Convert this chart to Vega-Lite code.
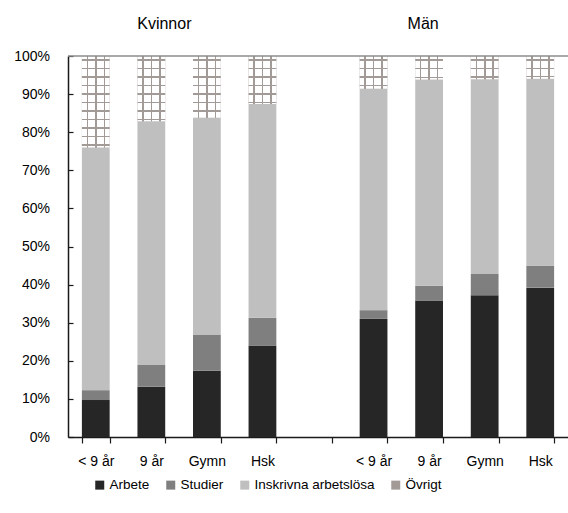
{
  "$schema": "https://vega.github.io/schema/vega-lite/v6.json",
  "width": 500,
  "height": 381,
  "autosize": {"type": "none"},
  "padding": {"left": 68, "top": 56, "right": 0, "bottom": 76},
  "background": "white",
  "config": {"view": {"stroke": null}, "font": "Liberation Sans"},
  "datasets": {
    "main": [
      {"cat": "K1", "kon": "Kvinnor", "utb": "< 9 år", "series": "Arbete", "k": 1, "value": 0.097},
      {"cat": "K1", "kon": "Kvinnor", "utb": "< 9 år", "series": "Studier", "k": 2, "value": 0.026},
      {"cat": "K1", "kon": "Kvinnor", "utb": "< 9 år", "series": "Inskrivna arbetslösa", "k": 3, "value": 0.637},
      {"cat": "K1", "kon": "Kvinnor", "utb": "< 9 år", "series": "Övrigt", "k": 4, "value": 0.240},
      {"cat": "K2", "kon": "Kvinnor", "utb": "9 år", "series": "Arbete", "k": 1, "value": 0.132},
      {"cat": "K2", "kon": "Kvinnor", "utb": "9 år", "series": "Studier", "k": 2, "value": 0.057},
      {"cat": "K2", "kon": "Kvinnor", "utb": "9 år", "series": "Inskrivna arbetslösa", "k": 3, "value": 0.640},
      {"cat": "K2", "kon": "Kvinnor", "utb": "9 år", "series": "Övrigt", "k": 4, "value": 0.171},
      {"cat": "K3", "kon": "Kvinnor", "utb": "Gymn", "series": "Arbete", "k": 1, "value": 0.174},
      {"cat": "K3", "kon": "Kvinnor", "utb": "Gymn", "series": "Studier", "k": 2, "value": 0.095},
      {"cat": "K3", "kon": "Kvinnor", "utb": "Gymn", "series": "Inskrivna arbetslösa", "k": 3, "value": 0.569},
      {"cat": "K3", "kon": "Kvinnor", "utb": "Gymn", "series": "Övrigt", "k": 4, "value": 0.162},
      {"cat": "K4", "kon": "Kvinnor", "utb": "Hsk", "series": "Arbete", "k": 1, "value": 0.240},
      {"cat": "K4", "kon": "Kvinnor", "utb": "Hsk", "series": "Studier", "k": 2, "value": 0.073},
      {"cat": "K4", "kon": "Kvinnor", "utb": "Hsk", "series": "Inskrivna arbetslösa", "k": 3, "value": 0.561},
      {"cat": "K4", "kon": "Kvinnor", "utb": "Hsk", "series": "Övrigt", "k": 4, "value": 0.126},
      {"cat": "M1", "kon": "Män", "utb": "< 9 år", "series": "Arbete", "k": 1, "value": 0.310},
      {"cat": "M1", "kon": "Män", "utb": "< 9 år", "series": "Studier", "k": 2, "value": 0.023},
      {"cat": "M1", "kon": "Män", "utb": "< 9 år", "series": "Inskrivna arbetslösa", "k": 3, "value": 0.581},
      {"cat": "M1", "kon": "Män", "utb": "< 9 år", "series": "Övrigt", "k": 4, "value": 0.086},
      {"cat": "M2", "kon": "Män", "utb": "9 år", "series": "Arbete", "k": 1, "value": 0.358},
      {"cat": "M2", "kon": "Män", "utb": "9 år", "series": "Studier", "k": 2, "value": 0.039},
      {"cat": "M2", "kon": "Män", "utb": "9 år", "series": "Inskrivna arbetslösa", "k": 3, "value": 0.541},
      {"cat": "M2", "kon": "Män", "utb": "9 år", "series": "Övrigt", "k": 4, "value": 0.062},
      {"cat": "M3", "kon": "Män", "utb": "Gymn", "series": "Arbete", "k": 1, "value": 0.372},
      {"cat": "M3", "kon": "Män", "utb": "Gymn", "series": "Studier", "k": 2, "value": 0.056},
      {"cat": "M3", "kon": "Män", "utb": "Gymn", "series": "Inskrivna arbetslösa", "k": 3, "value": 0.511},
      {"cat": "M3", "kon": "Män", "utb": "Gymn", "series": "Övrigt", "k": 4, "value": 0.061},
      {"cat": "M4", "kon": "Män", "utb": "Hsk", "series": "Arbete", "k": 1, "value": 0.392},
      {"cat": "M4", "kon": "Män", "utb": "Hsk", "series": "Studier", "k": 2, "value": 0.058},
      {"cat": "M4", "kon": "Män", "utb": "Hsk", "series": "Inskrivna arbetslösa", "k": 3, "value": 0.490},
      {"cat": "M4", "kon": "Män", "utb": "Hsk", "series": "Övrigt", "k": 4, "value": 0.060}
    ]
  },
  "encoding": {
    "y": {
      "field": "v1", "type": "quantitative",
      "scale": {"domain": [0, 1], "nice": false},
      "axis": {
        "title": null, "values": [0, 0.1, 0.2, 0.3, 0.4, 0.5, 0.6, 0.7, 0.8, 0.9, 1], "format": ".0%",
        "labelOverlap": false, "grid": false, "domainColor": "#1a1a1a", "domainWidth": 1.5, "tickColor": "#1a1a1a", "tickWidth": 1.2,
        "tickSize": -5, "labelFontSize": 14, "labelColor": "#000000", "labelPadding": 23.5
      }
    }
  },
  "layer": [
    {
      "data": {"name": "main"},
      "transform": [
        {"stack": "value", "groupby": ["cat"], "sort": [{"field": "k", "order": "ascending"}], "as": ["v0", "v1"]}
      ],
      "layer": [
        {
          "mark": {"type": "bar", "strokeWidth": 0},
          "encoding": {
            "x": {
              "field": "cat", "type": "nominal",
              "scale": {"domain": ["K1", "K2", "K3", "K4", "gap", "M1", "M2", "M3", "M4"], "paddingInner": 0.5, "paddingOuter": 0.25},
              "axis": {
                "title": null, "labelAngle": 0, "tickBand": "extent", "tickSize": 6,
                "domainColor": "#1a1a1a", "domainWidth": 1.5, "tickColor": "#1a1a1a", "tickWidth": 1.2,
                "labelFontSize": 14, "labelColor": "#000000", "labelPadding": 11,
                "labelExpr": "indexof(['K1','M1'], datum.value) >= 0 ? '< 9 år' : (indexof(['K2','M2'], datum.value) >= 0 ? '9 år' : (indexof(['K3','M3'], datum.value) >= 0 ? 'Gymn' : (indexof(['K4','M4'], datum.value) >= 0 ? 'Hsk' : '')))"
              }
            },
            "y2": {"field": "v0"},
            "color": {
              "field": "series", "type": "nominal",
              "scale": {
                "domain": ["Arbete", "Studier", "Inskrivna arbetslösa", "Övrigt"],
                "range": ["#262626", "#7f7f7f", "#bfbfbf", "#a19a97"]
              },
              "legend": {
                "title": null, "orient": "none", "direction": "horizontal", "legendX": 25, "legendY": 422,
                "symbolType": "square", "symbolSize": 81, "symbolStrokeWidth": 0,
                "labelFontSize": 13.5, "labelColor": "#000000", "labelOffset": 3, "columnPadding": 14, "labelLimit": 0
              }
            }
          }
        },
        {
          "transform": [{"filter": "datum.series == 'Övrigt'"}],
          "mark": {"type": "bar", "strokeWidth": 0, "fill": {"gradient": "linear", "x1": 0, "y1": 0, "x2": 1, "y2": 0, "stops": [
            {"offset": 0, "color": "#ffffff"}, {"offset": 0.171, "color": "#ffffff"},
            {"offset": 0.171, "color": "#a19a97"}, {"offset": 0.225, "color": "#a19a97"},
            {"offset": 0.225, "color": "#ffffff"}, {"offset": 0.477, "color": "#ffffff"},
            {"offset": 0.477, "color": "#a19a97"}, {"offset": 0.531, "color": "#a19a97"},
            {"offset": 0.531, "color": "#ffffff"}, {"offset": 0.782, "color": "#ffffff"},
            {"offset": 0.782, "color": "#a19a97"}, {"offset": 0.836, "color": "#a19a97"},
            {"offset": 0.836, "color": "#ffffff"}, {"offset": 1, "color": "#ffffff"}
          ]}},
          "encoding": {
            "x": {"field": "cat", "type": "nominal", "title": null},
            "y2": {"field": "v0"}
          }
        },
        {
          "transform": [{"filter": "datum.series == 'Övrigt' && datum.cat == 'K1'"}],
          "mark": {"type": "bar", "strokeWidth": 0, "fill": {"gradient": "linear", "x1": 0, "y1": 0, "x2": 0, "y2": 1, "stops": [
            {"offset": 0, "color": "rgba(161,154,151,0)"},
            {"offset": 0.0355, "color": "rgba(161,154,151,0)"}, {"offset": 0.0355, "color": "#a19a97"}, {"offset": 0.0519, "color": "#a19a97"}, {"offset": 0.0519, "color": "rgba(161,154,151,0)"},
            {"offset": 0.1285, "color": "rgba(161,154,151,0)"}, {"offset": 0.1285, "color": "#a19a97"}, {"offset": 0.1449, "color": "#a19a97"}, {"offset": 0.1449, "color": "rgba(161,154,151,0)"},
            {"offset": 0.2215, "color": "rgba(161,154,151,0)"}, {"offset": 0.2215, "color": "#a19a97"}, {"offset": 0.2379, "color": "#a19a97"}, {"offset": 0.2379, "color": "rgba(161,154,151,0)"},
            {"offset": 0.3144, "color": "rgba(161,154,151,0)"}, {"offset": 0.3144, "color": "#a19a97"}, {"offset": 0.3308, "color": "#a19a97"}, {"offset": 0.3308, "color": "rgba(161,154,151,0)"},
            {"offset": 0.4074, "color": "rgba(161,154,151,0)"}, {"offset": 0.4074, "color": "#a19a97"}, {"offset": 0.4238, "color": "#a19a97"}, {"offset": 0.4238, "color": "rgba(161,154,151,0)"},
            {"offset": 0.5003, "color": "rgba(161,154,151,0)"}, {"offset": 0.5003, "color": "#a19a97"}, {"offset": 0.5167, "color": "#a19a97"}, {"offset": 0.5167, "color": "rgba(161,154,151,0)"},
            {"offset": 0.5933, "color": "rgba(161,154,151,0)"}, {"offset": 0.5933, "color": "#a19a97"}, {"offset": 0.6097, "color": "#a19a97"}, {"offset": 0.6097, "color": "rgba(161,154,151,0)"},
            {"offset": 0.6862, "color": "rgba(161,154,151,0)"}, {"offset": 0.6862, "color": "#a19a97"}, {"offset": 0.7026, "color": "#a19a97"}, {"offset": 0.7026, "color": "rgba(161,154,151,0)"},
            {"offset": 0.7792, "color": "rgba(161,154,151,0)"}, {"offset": 0.7792, "color": "#a19a97"}, {"offset": 0.7956, "color": "#a19a97"}, {"offset": 0.7956, "color": "rgba(161,154,151,0)"},
            {"offset": 0.8722, "color": "rgba(161,154,151,0)"}, {"offset": 0.8722, "color": "#a19a97"}, {"offset": 0.8886, "color": "#a19a97"}, {"offset": 0.8886, "color": "rgba(161,154,151,0)"},
            {"offset": 0.9651, "color": "rgba(161,154,151,0)"}, {"offset": 0.9651, "color": "#a19a97"}, {"offset": 0.9815, "color": "#a19a97"}, {"offset": 0.9815, "color": "rgba(161,154,151,0)"},
            {"offset": 1, "color": "rgba(161,154,151,0)"}
          ]}},
          "encoding": {
            "x": {"field": "cat", "type": "nominal", "title": null},
            "y2": {"field": "v0"}
          }
        },
        {
          "transform": [{"filter": "datum.series == 'Övrigt' && datum.cat == 'K2'"}],
          "mark": {"type": "bar", "strokeWidth": 0, "fill": {"gradient": "linear", "x1": 0, "y1": 0, "x2": 0, "y2": 1, "stops": [
            {"offset": 0, "color": "rgba(161,154,151,0)"},
            {"offset": 0.0499, "color": "rgba(161,154,151,0)"}, {"offset": 0.0499, "color": "#a19a97"}, {"offset": 0.0729, "color": "#a19a97"}, {"offset": 0.0729, "color": "rgba(161,154,151,0)"},
            {"offset": 0.1804, "color": "rgba(161,154,151,0)"}, {"offset": 0.1804, "color": "#a19a97"}, {"offset": 0.2034, "color": "#a19a97"}, {"offset": 0.2034, "color": "rgba(161,154,151,0)"},
            {"offset": 0.3108, "color": "rgba(161,154,151,0)"}, {"offset": 0.3108, "color": "#a19a97"}, {"offset": 0.3338, "color": "#a19a97"}, {"offset": 0.3338, "color": "rgba(161,154,151,0)"},
            {"offset": 0.4413, "color": "rgba(161,154,151,0)"}, {"offset": 0.4413, "color": "#a19a97"}, {"offset": 0.4643, "color": "#a19a97"}, {"offset": 0.4643, "color": "rgba(161,154,151,0)"},
            {"offset": 0.5718, "color": "rgba(161,154,151,0)"}, {"offset": 0.5718, "color": "#a19a97"}, {"offset": 0.5948, "color": "#a19a97"}, {"offset": 0.5948, "color": "rgba(161,154,151,0)"},
            {"offset": 0.7022, "color": "rgba(161,154,151,0)"}, {"offset": 0.7022, "color": "#a19a97"}, {"offset": 0.7252, "color": "#a19a97"}, {"offset": 0.7252, "color": "rgba(161,154,151,0)"},
            {"offset": 0.8327, "color": "rgba(161,154,151,0)"}, {"offset": 0.8327, "color": "#a19a97"}, {"offset": 0.8557, "color": "#a19a97"}, {"offset": 0.8557, "color": "rgba(161,154,151,0)"},
            {"offset": 0.9632, "color": "rgba(161,154,151,0)"}, {"offset": 0.9632, "color": "#a19a97"}, {"offset": 0.9862, "color": "#a19a97"}, {"offset": 0.9862, "color": "rgba(161,154,151,0)"},
            {"offset": 1, "color": "rgba(161,154,151,0)"}
          ]}},
          "encoding": {
            "x": {"field": "cat", "type": "nominal", "title": null},
            "y2": {"field": "v0"}
          }
        },
        {
          "transform": [{"filter": "datum.series == 'Övrigt' && datum.cat == 'K3'"}],
          "mark": {"type": "bar", "strokeWidth": 0, "fill": {"gradient": "linear", "x1": 0, "y1": 0, "x2": 0, "y2": 1, "stops": [
            {"offset": 0, "color": "rgba(161,154,151,0)"},
            {"offset": 0.0527, "color": "rgba(161,154,151,0)"}, {"offset": 0.0527, "color": "#a19a97"}, {"offset": 0.0770, "color": "#a19a97"}, {"offset": 0.0770, "color": "rgba(161,154,151,0)"},
            {"offset": 0.1904, "color": "rgba(161,154,151,0)"}, {"offset": 0.1904, "color": "#a19a97"}, {"offset": 0.2147, "color": "#a19a97"}, {"offset": 0.2147, "color": "rgba(161,154,151,0)"},
            {"offset": 0.3281, "color": "rgba(161,154,151,0)"}, {"offset": 0.3281, "color": "#a19a97"}, {"offset": 0.3524, "color": "#a19a97"}, {"offset": 0.3524, "color": "rgba(161,154,151,0)"},
            {"offset": 0.4658, "color": "rgba(161,154,151,0)"}, {"offset": 0.4658, "color": "#a19a97"}, {"offset": 0.4901, "color": "#a19a97"}, {"offset": 0.4901, "color": "rgba(161,154,151,0)"},
            {"offset": 0.6035, "color": "rgba(161,154,151,0)"}, {"offset": 0.6035, "color": "#a19a97"}, {"offset": 0.6278, "color": "#a19a97"}, {"offset": 0.6278, "color": "rgba(161,154,151,0)"},
            {"offset": 0.7413, "color": "rgba(161,154,151,0)"}, {"offset": 0.7413, "color": "#a19a97"}, {"offset": 0.7656, "color": "#a19a97"}, {"offset": 0.7656, "color": "rgba(161,154,151,0)"},
            {"offset": 0.8790, "color": "rgba(161,154,151,0)"}, {"offset": 0.8790, "color": "#a19a97"}, {"offset": 0.9033, "color": "#a19a97"}, {"offset": 0.9033, "color": "rgba(161,154,151,0)"},
            {"offset": 1, "color": "rgba(161,154,151,0)"}
          ]}},
          "encoding": {
            "x": {"field": "cat", "type": "nominal", "title": null},
            "y2": {"field": "v0"}
          }
        },
        {
          "transform": [{"filter": "datum.series == 'Övrigt' && datum.cat == 'K4'"}],
          "mark": {"type": "bar", "strokeWidth": 0, "fill": {"gradient": "linear", "x1": 0, "y1": 0, "x2": 0, "y2": 1, "stops": [
            {"offset": 0, "color": "rgba(161,154,151,0)"},
            {"offset": 0.0677, "color": "rgba(161,154,151,0)"}, {"offset": 0.0677, "color": "#a19a97"}, {"offset": 0.0990, "color": "#a19a97"}, {"offset": 0.0990, "color": "rgba(161,154,151,0)"},
            {"offset": 0.2448, "color": "rgba(161,154,151,0)"}, {"offset": 0.2448, "color": "#a19a97"}, {"offset": 0.2760, "color": "#a19a97"}, {"offset": 0.2760, "color": "rgba(161,154,151,0)"},
            {"offset": 0.4219, "color": "rgba(161,154,151,0)"}, {"offset": 0.4219, "color": "#a19a97"}, {"offset": 0.4531, "color": "#a19a97"}, {"offset": 0.4531, "color": "rgba(161,154,151,0)"},
            {"offset": 0.5990, "color": "rgba(161,154,151,0)"}, {"offset": 0.5990, "color": "#a19a97"}, {"offset": 0.6302, "color": "#a19a97"}, {"offset": 0.6302, "color": "rgba(161,154,151,0)"},
            {"offset": 0.7760, "color": "rgba(161,154,151,0)"}, {"offset": 0.7760, "color": "#a19a97"}, {"offset": 0.8073, "color": "#a19a97"}, {"offset": 0.8073, "color": "rgba(161,154,151,0)"},
            {"offset": 0.9531, "color": "rgba(161,154,151,0)"}, {"offset": 0.9531, "color": "#a19a97"}, {"offset": 0.9844, "color": "#a19a97"}, {"offset": 0.9844, "color": "rgba(161,154,151,0)"},
            {"offset": 1, "color": "rgba(161,154,151,0)"}
          ]}},
          "encoding": {
            "x": {"field": "cat", "type": "nominal", "title": null},
            "y2": {"field": "v0"}
          }
        },
        {
          "transform": [{"filter": "datum.series == 'Övrigt' && datum.cat == 'M1'"}],
          "mark": {"type": "bar", "strokeWidth": 0, "fill": {"gradient": "linear", "x1": 0, "y1": 0, "x2": 0, "y2": 1, "stops": [
            {"offset": 0, "color": "rgba(161,154,151,0)"},
            {"offset": 0.0992, "color": "rgba(161,154,151,0)"}, {"offset": 0.0992, "color": "#a19a97"}, {"offset": 0.1450, "color": "#a19a97"}, {"offset": 0.1450, "color": "rgba(161,154,151,0)"},
            {"offset": 0.3586, "color": "rgba(161,154,151,0)"}, {"offset": 0.3586, "color": "#a19a97"}, {"offset": 0.4043, "color": "#a19a97"}, {"offset": 0.4043, "color": "rgba(161,154,151,0)"},
            {"offset": 0.6179, "color": "rgba(161,154,151,0)"}, {"offset": 0.6179, "color": "#a19a97"}, {"offset": 0.6637, "color": "#a19a97"}, {"offset": 0.6637, "color": "rgba(161,154,151,0)"},
            {"offset": 0.8773, "color": "rgba(161,154,151,0)"}, {"offset": 0.8773, "color": "#a19a97"}, {"offset": 0.9231, "color": "#a19a97"}, {"offset": 0.9231, "color": "rgba(161,154,151,0)"},
            {"offset": 1, "color": "rgba(161,154,151,0)"}
          ]}},
          "encoding": {
            "x": {"field": "cat", "type": "nominal", "title": null},
            "y2": {"field": "v0"}
          }
        },
        {
          "transform": [{"filter": "datum.series == 'Övrigt' && (datum.cat == 'M2' || datum.cat == 'M3' || datum.cat == 'M4')"}],
          "mark": {"type": "bar", "strokeWidth": 0, "fill": {"gradient": "linear", "x1": 0, "y1": 0, "x2": 0, "y2": 1, "stops": [
            {"offset": 0, "color": "rgba(161,154,151,0)"},
            {"offset": 0.1401, "color": "rgba(161,154,151,0)"}, {"offset": 0.1401, "color": "#a19a97"}, {"offset": 0.2047, "color": "#a19a97"}, {"offset": 0.2047, "color": "rgba(161,154,151,0)"},
            {"offset": 0.5065, "color": "rgba(161,154,151,0)"}, {"offset": 0.5065, "color": "#a19a97"}, {"offset": 0.5711, "color": "#a19a97"}, {"offset": 0.5711, "color": "rgba(161,154,151,0)"},
            {"offset": 0.8728, "color": "rgba(161,154,151,0)"}, {"offset": 0.8728, "color": "#a19a97"}, {"offset": 0.9375, "color": "#a19a97"}, {"offset": 0.9375, "color": "rgba(161,154,151,0)"},
            {"offset": 1, "color": "rgba(161,154,151,0)"}
          ]}},
          "encoding": {
            "x": {"field": "cat", "type": "nominal", "title": null},
            "y2": {"field": "v0"}
          }
        }
      ]
    },
    {
      "data": {"values": [{"v1": 1}]},
      "mark": {"type": "rule", "color": "#8c8c8c", "strokeWidth": 1.5},
      "encoding": {}
    },
    {
      "data": {"values": [{"cat": "K2", "v1": 1, "label": "Kvinnor"}]},
      "mark": {"type": "text", "fontSize": 16, "color": "#000000", "baseline": "alphabetic", "align": "center", "dx": 13, "dy": -27},
      "encoding": {
        "x": {"field": "cat", "type": "nominal", "title": null},
        "text": {"field": "label"}
      }
    },
    {
      "data": {"values": [{"cat": "M2", "v1": 1, "label": "Män"}]},
      "mark": {"type": "text", "fontSize": 16, "color": "#000000", "baseline": "alphabetic", "align": "center", "dx": -6, "dy": -27},
      "encoding": {
        "x": {"field": "cat", "type": "nominal", "title": null},
        "text": {"field": "label"}
      }
    }
  ]
}
